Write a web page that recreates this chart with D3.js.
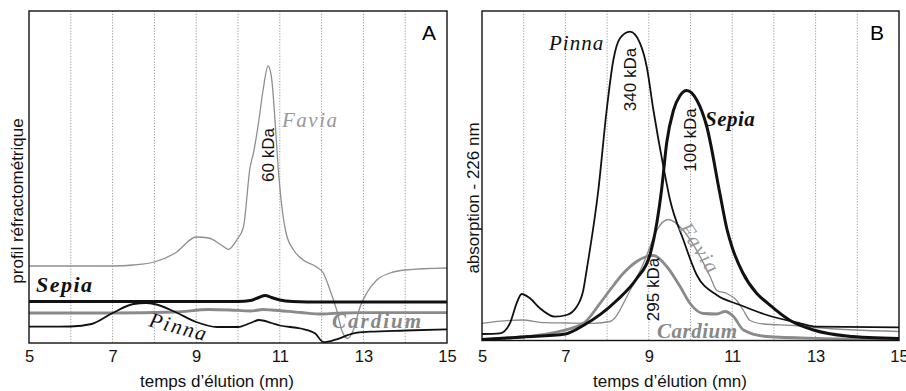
<!DOCTYPE html>
<html>
<head>
<meta charset="utf-8">
<script src="https://cdn.jsdelivr.net/npm/d3@7"></script>
<style>
  body { margin: 0; background: #fff; }
  svg { display: block; }
  .tick text { font-family: "Liberation Sans", Arial, sans-serif; font-size: 16.5px; fill: #111; }
  .axis-title { font-family: "Liberation Sans", Arial, sans-serif; font-size: 17px; fill: #111; }
  .kda { font-family: "Liberation Sans", Arial, sans-serif; font-size: 17px; fill: #111; }
  .species { font-family: "Liberation Serif", "Times New Roman", serif; font-style: italic; font-size: 21px; }
</style>
</head>
<body>
<svg id="chart" width="906" height="391"></svg>
<script>
const width = 906;
const height = 391;

// elution time (mn), arbitrary signal units
const xTicks = [5, 7, 9, 11, 13, 15];
const gridTimes = [6, 7, 8, 9, 10, 11, 12, 13, 14];

// panel A - refractometric profile
const faviaA = [
  [5, 77], [7, 77], [7.5, 78], [8, 81], [8.5, 90], [9, 106], [9.3, 105], [9.6, 98],
  [9.77, 93.7], [9.97, 103], [10.13, 116], [10.29, 176], [10.37, 190], [10.49, 220],
  [10.6, 253], [10.72, 277], [10.8, 266], [10.89, 220], [10.96, 176], [11.05, 136],
  [11.15, 110], [11.33, 93], [11.56, 83], [11.88, 76], [12.04, 70], [12.2, 53],
  [12.36, 33], [12.48, 13], [12.62, 4.5], [12.76, 13], [12.92, 36], [13.08, 50],
  [13.32, 63], [13.64, 70], [14, 73], [15, 75],
];
const sepiaA = [
  [5, 41.5], [9, 41.5], [10, 41.5], [10.3, 42.5], [10.5, 45.5], [10.65, 47.5],
  [10.8, 45.5], [11, 43], [11.3, 41.5], [12, 41], [15, 41],
];
const cardiumA = [
  [5, 30], [7, 30], [8.5, 31], [9.3, 33.5], [9.8, 33], [10.3, 32], [10.6, 33.5],
  [10.8, 33], [11.5, 30.5], [12, 29], [12.5, 30], [13, 30.3], [15, 30.3],
];
const pinnaA = [
  [5, 16.3], [6, 16.5], [6.5, 19], [7, 30], [7.5, 39], [7.8, 40], [8, 39], [8.5, 31],
  [9, 21], [9.5, 16], [10, 16], [10.3, 20], [10.5, 23], [10.8, 20], [11, 17.5],
  [11.5, 14.5], [11.84, 9.7], [12.05, 0.8], [12.36, 3.7], [12.76, 9.7], [13.16, 11.3],
  [14, 12.5], [15, 13.7],
];

// panel B - absorption at 226 nm
const pinnaB = [
  [5, 6.5], [5.43, 7.2], [5.67, 17.2], [5.83, 37.2], [5.95, 46.5], [6.15, 42.2],
  [6.39, 32.2], [6.75, 23.8], [7.03, 25.5], [7.27, 33.8], [7.43, 50.5], [7.51, 70.5],
  [7.79, 150.5], [7.99, 230.5], [8.15, 280.5], [8.31, 302.2], [8.55, 308.8],
  [8.79, 297.2], [8.95, 273.8], [9.11, 230.5], [9.35, 173.8], [9.51, 140.5],
  [9.83, 100.5], [10.15, 65.5], [10.63, 45.5], [11.19, 35.5], [11.83, 25.5],
  [12.63, 17.2], [13.03, 13.8], [15, 13.2],
];
const sepiaB = [
  [5, 1], [6, 3.5], [7, 6.5], [7.43, 15], [8.23, 40], [8.71, 62], [9.03, 86],
  [9.19, 117], [9.31, 152], [9.43, 198], [9.59, 230], [9.75, 245], [9.91, 250],
  [10.15, 240.5], [10.39, 214], [10.7, 148], [10.87, 112], [11, 93], [11.25, 68],
  [11.59, 47], [11.83, 38], [12.39, 20], [12.95, 10.5], [13.75, 4.5], [15, 2],
];
const faviaB = [
  [5, 17.2], [5.95, 20.5], [6.5, 17.8], [7, 17.5], [7.67, 17.2], [8.07, 19],
  [8.55, 50], [8.87, 77], [9.03, 94], [9.19, 110], [9.47, 121], [9.83, 110],
  [10.15, 90], [10.47, 64], [10.63, 50], [10.87, 47], [11.11, 40], [11.27, 30],
  [11.43, 20], [11.75, 16.5], [12.5, 15], [13, 13], [15, 9],
];
const cardiumB = [
  [5, 1], [5.83, 3.2], [6.63, 7.2], [7.43, 17.2], [7.83, 37.2], [8.07, 50.5],
  [8.39, 67.2], [8.71, 79], [8.95, 84], [9.11, 85], [9.43, 74], [9.75, 54],
  [9.99, 37], [10.31, 27], [10.63, 26.5], [10.83, 29], [11.03, 24], [11.27, 10.5],
  [11.83, 4], [13.03, 2.2], [15, 1.2],
];

const svg = d3.select("#chart");

function drawPanel(p) {
  const g = svg.append("g");
  const x = d3.scaleLinear().domain([5, 15]).range([p.left, p.right]);
  const y = d3.scaleLinear().domain([0, p.bottom - p.top]).range([p.bottom, p.top]);

  // dotted vertical grid
  g.selectAll(".grid")
    .data(gridTimes)
    .join("line")
    .attr("x1", (d) => x(d))
    .attr("x2", (d) => x(d))
    .attr("y1", p.top)
    .attr("y2", p.bottom)
    .attr("stroke", "#9a9a9a")
    .attr("stroke-width", 1)
    .attr("stroke-dasharray", "1.2,1.6");

  const line = d3
    .line()
    .x((d) => x(d[0]))
    .y((d) => y(d[1]))
    .curve(d3.curveMonotoneX);

  g.selectAll(".curve")
    .data(p.series)
    .join("path")
    .attr("d", (d) => line(d.values))
    .attr("fill", "none")
    .attr("stroke", (d) => d.color)
    .attr("stroke-width", (d) => d.width)
    .attr("stroke-linejoin", "round");

  // frame
  g.append("rect")
    .attr("x", p.left)
    .attr("y", p.top)
    .attr("width", p.right - p.left)
    .attr("height", p.bottom - p.top)
    .attr("fill", "none")
    .attr("stroke", "#111")
    .attr("stroke-width", 1.4);

  const axis = d3.axisBottom(x).tickValues(xTicks).tickSize(0).tickPadding(362 - p.bottom - 11.7);
  g.append("g")
    .attr("transform", `translate(0, ${p.bottom})`)
    .call(axis)
    .call((a) => a.select(".domain").remove());

  g.append("text")
    .attr("class", "axis-title")
    .attr("text-anchor", "middle")
    .attr("x", p.xTitleX)
    .attr("y", 387)
    .text("temps d\u2019élution (mn)");

  g.append("text")
    .attr("class", "axis-title")
    .attr("text-anchor", "middle")
    .attr("transform", `translate(${p.yTitleX}, ${p.yTitleY}) rotate(-90)`)
    .attr("dy", "0.35em")
    .text(p.yTitle);

  g.append("text")
    .attr("x", p.letterX)
    .attr("y", 40)
    .attr("text-anchor", "middle")
    .style("font-family", "Liberation Sans, Arial, sans-serif")
    .style("font-size", "21px")
    .text(p.letter);

  // rotated molecular weight labels
  g.selectAll(".kda")
    .data(p.kda)
    .join("text")
    .attr("class", "kda")
    .attr("text-anchor", "middle")
    .attr("dy", "0.35em")
    .attr("transform", (d) => `translate(${d.x}, ${d.y}) rotate(-90)`)
    .text((d) => d.text);

  // species names
  g.selectAll(".species")
    .data(p.names)
    .join("text")
    .attr("class", "species")
    .attr("transform", (d) => `translate(${d.x}, ${d.y}) rotate(${d.rot || 0})`)
    .attr("text-anchor", (d) => d.anchor || "start")
    .attr("dy", (d) => d.dy || 0)
    .style("font-weight", (d) => (d.bold ? "bold" : "normal"))
    .style("font-size", (d) => d.size + "px")
    .style("letter-spacing", (d) => d.ls + "px")
    .style("fill", (d) => d.color)
    .text((d) => d.text);
}

drawPanel({
  left: 29, right: 447, top: 11, bottom: 343,
  xTitleX: 217, yTitleX: 17, yTitleY: 201, yTitle: "profil réfractométrique",
  letter: "A", letterX: 429,
  series: [
    { values: faviaA, color: "#8f8f8f", width: 1.3 },
    { values: cardiumA, color: "#8a8a8a", width: 2.8 },
    { values: pinnaA, color: "#111", width: 1.8 },
    { values: sepiaA, color: "#111", width: 3 },
  ],
  kda: [{ x: 268, y: 155, text: "60 kDa" }],
  names: [
    { text: "Favia", x: 282, y: 127, size: 21, ls: 1.5, color: "#999" },
    { text: "Sepia", x: 36, y: 292, size: 22, ls: 1.5, color: "#111", bold: true },
    { text: "Pinna", x: 148, y: 326, size: 21, ls: 2, color: "#111", rot: 15 },
    { text: "Cardium", x: 332, y: 328, size: 21, ls: 2, color: "#888", bold: true },
  ],
});

drawPanel({
  left: 482, right: 899, top: 11, bottom: 340.5,
  xTitleX: 670, yTitleX: 473, yTitleY: 198, yTitle: "absorption - 226 nm",
  letter: "B", letterX: 877,
  series: [
    { values: faviaB, color: "#8a8a8a", width: 1.3 },
    { values: cardiumB, color: "#8a8a8a", width: 2.8 },
    { values: pinnaB, color: "#111", width: 1.8 },
    { values: sepiaB, color: "#111", width: 3 },
  ],
  kda: [
    { x: 630, y: 79.5, text: "340 kDa" },
    { x: 690, y: 140, text: "100 kDa" },
    { x: 653, y: 289.5, text: "295 kDa" },
  ],
  names: [
    { text: "Pinna", x: 549, y: 50, size: 21, ls: 1, color: "#111" },
    { text: "Sepia", x: 705, y: 126, size: 21, ls: 0.5, color: "#111", bold: true },
    { text: "Favia", x: 700, y: 248, size: 21, ls: 1.5, color: "#999", rot: 57, anchor: "middle", dy: "0.35em" },
    { text: "Cardium", x: 657, y: 338, size: 21, ls: 0.5, color: "#888", bold: true },
  ],
});
</script>
</body>
</html>
